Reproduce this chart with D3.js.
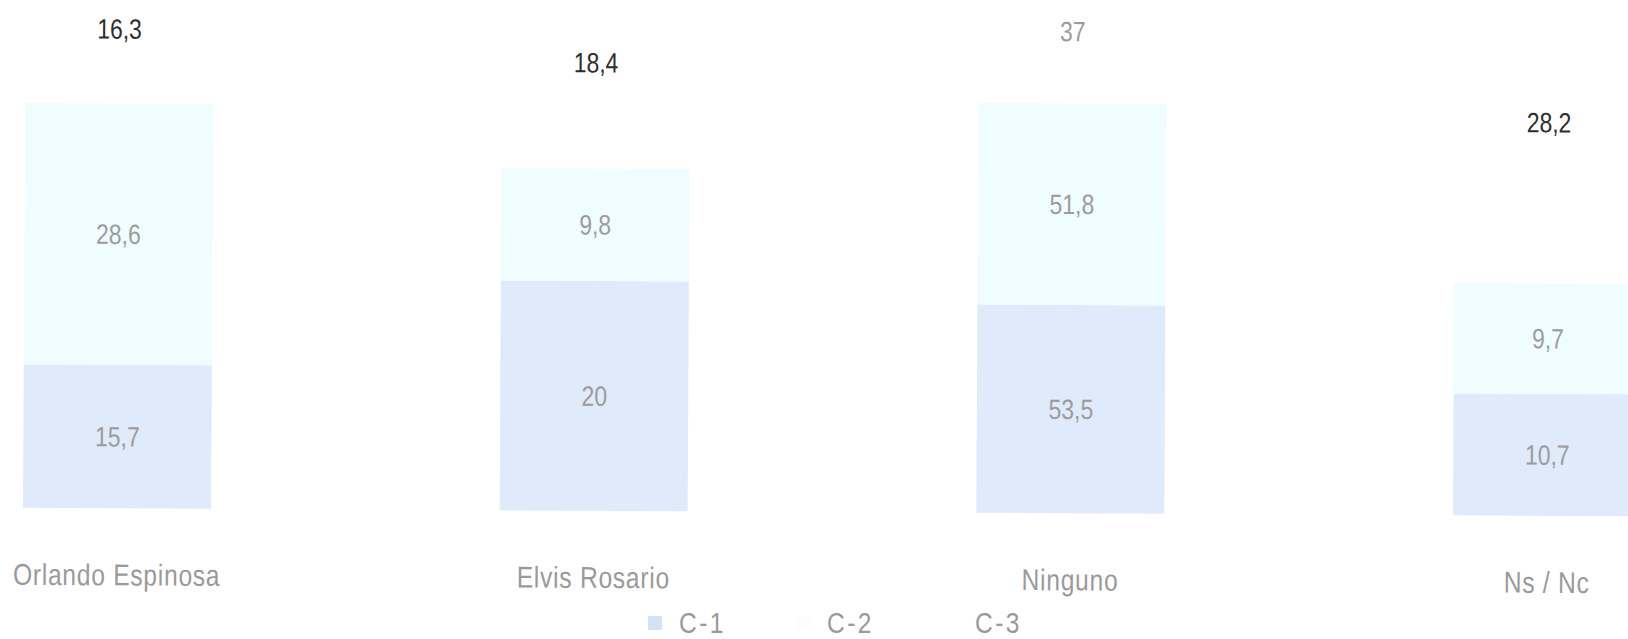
<!DOCTYPE html>
<html>
<head>
<meta charset="utf-8">
<script src="https://cdn.jsdelivr.net/npm/d3@7"></script>
<style>
  html, body { margin: 0; padding: 0; background: #fff; overflow: hidden; }
  text { font-family: 'Liberation Sans', Arial, sans-serif; }
</style>
</head>
<body>
<script>
const width = 1628;
const height = 639;
const narrow = 0.82; // squeeze to mimic the condensed face of the source

const categories = ['Orlando Espinosa', 'Elvis Rosario', 'Ninguno', 'Ns / Nc'];
const series = ['C-1', 'C-2', 'C-3'];
const c1 = [15.7, 20, 53.5, 10.7];
const c2 = [28.6, 9.8, 51.8, 9.7];
const c3 = [16.3, 18.4, 37, 28.2];

const colors = {'C-1': '#dfeafb', 'C-2': '#f0fdff', 'C-3': '#ffffff'};
const swatch = {'C-1': '#d3e3f6', 'C-2': '#fbfeff', 'C-3': '#ffffff'};

const rows = categories.map((c, i) => ({cat: c, 'C-1': c1[i], 'C-2': c2[i], 'C-3': c3[i]}));

const stacked = d3.stack()
    .keys(series)
    .offset(d3.stackOffsetExpand)(rows);

const svg = d3.select('body')
    .append('svg')
    .attr('width', width)
    .attr('height', height);

// the source is a slightly skewed photo of a slide
const g = svg.append('g')
    .attr('transform', `rotate(0.3, ${width / 2}, 320)`);

const x = d3.scaleBand()
    .domain(categories)
    .range([24, 1642])
    .paddingInner(0.6056)
    .paddingOuter(0);

const y = d3.scaleLinear()
    .domain([0, 1])
    .range([512, -42]);

const fmt = v => String(v).replace('.', ',');
const place = (px, py) => `translate(${px}, ${py}) scale(${narrow}, 1)`;

const layers = g.selectAll('.layer')
    .data(stacked)
    .enter()
    .append('g')
    .attr('class', 'layer')
    .attr('fill', d => colors[d.key]);

layers.selectAll('rect')
    .data(d => d)
    .enter()
    .append('rect')
    .attr('x', d => x(d.data.cat))
    .attr('y', d => y(d[1]))
    .attr('width', x.bandwidth())
    .attr('height', d => y(d[0]) - y(d[1]));

layers.each(function (layer) {
    d3.select(this).selectAll('text')
        .data(layer)
        .enter()
        .append('text')
        .attr('transform', d => place(x(d.data.cat) + x.bandwidth() / 2, (y(d[0]) + y(d[1])) / 2))
        .attr('text-anchor', 'middle')
        .attr('dominant-baseline', 'central')
        .attr('font-size', 28)
        .attr('fill', d => (layer.key === 'C-3' && d.data.cat !== 'Ninguno') ? '#2e2e2e' : '#9c9c9c')
        .text(d => fmt(d.data[layer.key]));
});

// category labels
g.selectAll('.cat')
    .data(categories)
    .enter()
    .append('text')
    .attr('class', 'cat')
    .attr('transform', d => place(x(d) + x.bandwidth() / 2, 589))
    .attr('text-anchor', 'middle')
    .attr('font-size', 30)
    .attr('letter-spacing', 0.9)
    .attr('fill', '#9a9a9a')
    .text(d => d);

// legend
const legend = svg.append('g')
    .selectAll('g')
    .data(series)
    .enter()
    .append('g')
    .attr('transform', (d, i) => `translate(${648 + i * 148}, 623)`);

legend.append('rect')
    .attr('x', 0)
    .attr('y', -7)
    .attr('width', 14)
    .attr('height', 14)
    .attr('fill', d => swatch[d]);

legend.append('text')
    .attr('transform', place(31, 0))
    .attr('dominant-baseline', 'central')
    .attr('font-size', 30)
    .attr('letter-spacing', 3)
    .attr('fill', '#9a9a9a')
    .text(d => d);
</script>
</body>
</html>
